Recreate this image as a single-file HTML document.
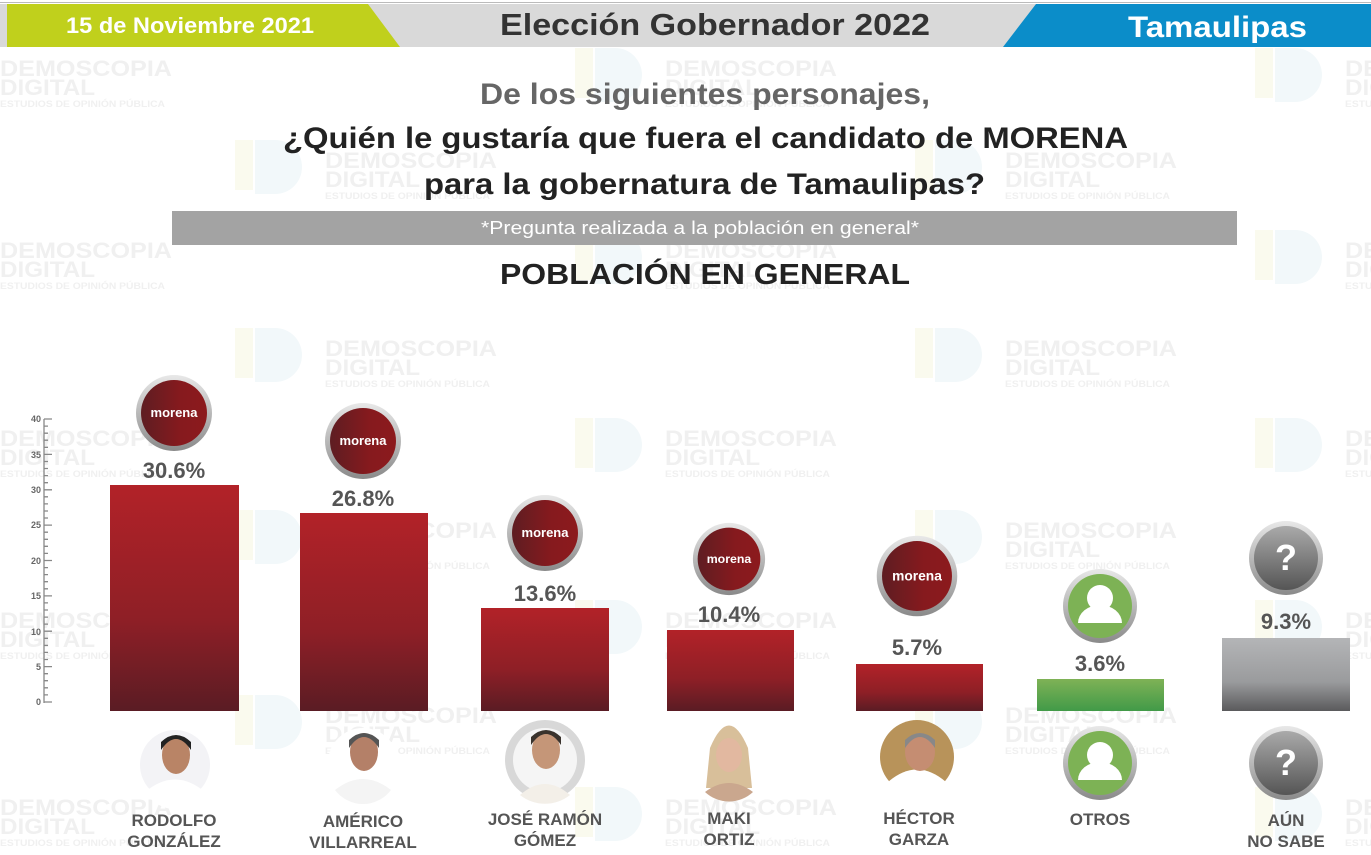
<!DOCTYPE html>
<html><head><meta charset="utf-8"><style>
html,body{margin:0;padding:0;background:#fff;}
svg{display:block;font-family:"Liberation Sans",sans-serif;}
</style></head><body>
<svg width="1371" height="855" viewBox="0 0 1371 855" xmlns="http://www.w3.org/2000/svg">
<defs>
<linearGradient id="rb" x1="0" y1="0" x2="0" y2="1"><stop offset="0" stop-color="#b22228"/><stop offset="0.6" stop-color="#8e1f26"/><stop offset="1" stop-color="#5a1c24"/></linearGradient>
<linearGradient id="gb" x1="0" y1="0" x2="0" y2="1"><stop offset="0" stop-color="#7fb256"/><stop offset="1" stop-color="#419a48"/></linearGradient>
<linearGradient id="sb" x1="0" y1="0" x2="0" y2="1"><stop offset="0" stop-color="#b4b5b7"/><stop offset="0.6" stop-color="#9a9b9d"/><stop offset="1" stop-color="#5a5a5c"/></linearGradient>
<linearGradient id="mc" x1="0" y1="0" x2="1" y2="0"><stop offset="0" stop-color="#5e1d22"/><stop offset="0.6" stop-color="#861a1e"/><stop offset="1" stop-color="#8c1a1d"/></linearGradient>
<linearGradient id="ring" x1="0" y1="0" x2="0" y2="1"><stop offset="0" stop-color="#e8e8e8"/><stop offset="1" stop-color="#8a8a8a"/></linearGradient>
<linearGradient id="qc" x1="0" y1="0" x2="0" y2="1"><stop offset="0" stop-color="#aaa"/><stop offset="1" stop-color="#555"/></linearGradient>
<g id="wm" fill="#f0f0f0" font-weight="bold">
<rect x="-90" y="-10" width="18" height="50" fill="#fafaee"/><path d="M-70 -10 h20 a27 27 0 0 1 0 54 h-20z" fill="#f2f8fa"/>
<text x="0" y="18" font-size="22" textLength="172" lengthAdjust="spacingAndGlyphs">DEMOSCOPIA</text><text x="0" y="37" font-size="22" textLength="95" lengthAdjust="spacingAndGlyphs">DIGITAL</text><text x="0" y="49" font-size="9.5" textLength="165" lengthAdjust="spacingAndGlyphs">ESTUDIOS DE OPINIÓN PÚBLICA</text></g>
<g id="mor"><circle r="38" fill="url(#ring)"/><circle r="33" fill="url(#mc)"/><text y="4" text-anchor="middle" fill="#fff" font-size="13" font-weight="bold">morena</text></g>
<g id="per"><circle r="37" fill="url(#ring)"/><circle r="32" fill="#7db255"/><circle cy="-8" r="13" fill="#fff"/><path d="M-22 17 a22 18 0 0 1 44 0z" fill="#fff"/></g>
<g id="q"><circle r="37" fill="url(#ring)"/><circle r="32" fill="url(#qc)"/><text y="12" text-anchor="middle" fill="#fff" font-size="36" font-weight="bold">?</text></g>
</defs>
<use href="#wm" x="0" y="58"/><use href="#wm" x="665" y="58"/><use href="#wm" x="1345" y="58"/>
<use href="#wm" x="325" y="150"/><use href="#wm" x="1005" y="150"/>
<use href="#wm" x="0" y="240"/><use href="#wm" x="665" y="240"/><use href="#wm" x="1345" y="240"/>
<use href="#wm" x="325" y="338"/><use href="#wm" x="1005" y="338"/>
<use href="#wm" x="0" y="428"/><use href="#wm" x="665" y="428"/><use href="#wm" x="1345" y="428"/>
<use href="#wm" x="325" y="520"/><use href="#wm" x="1005" y="520"/>
<use href="#wm" x="0" y="610"/><use href="#wm" x="665" y="610"/><use href="#wm" x="1345" y="610"/>
<use href="#wm" x="325" y="705"/><use href="#wm" x="1005" y="705"/>
<use href="#wm" x="0" y="797"/><use href="#wm" x="665" y="797"/><use href="#wm" x="1345" y="797"/>
<line x1="0" y1="2.5" x2="1371" y2="2.5" stroke="#bbb" stroke-width="1"/>
<rect x="0" y="4" width="1371" height="43" fill="#d9d9d9"/>
<polygon points="7,4 368,4 400,47 7,47" fill="#c0d01c"/>
<polygon points="1036,4 1371,4 1371,47 1003,47" fill="#0b8dc9"/>
<g font-weight="bold">
<text x="66" y="33" fill="#fff" font-size="22" textLength="248" lengthAdjust="spacingAndGlyphs">15 de Noviembre 2021</text>
<text x="500" y="35" fill="#333" font-size="31" textLength="430" lengthAdjust="spacingAndGlyphs">Elección Gobernador 2022</text>
<text x="1128" y="37" fill="#fff" font-size="30" textLength="179" lengthAdjust="spacingAndGlyphs">Tamaulipas</text>
<text x="480" y="104" fill="#666" font-size="30" textLength="450" lengthAdjust="spacingAndGlyphs">De los siguientes personajes,</text>
<text x="283" y="148" fill="#222" font-size="30" textLength="845" lengthAdjust="spacingAndGlyphs">¿Quién le gustaría que fuera el candidato de MORENA</text>
<text x="424" y="194" fill="#222" font-size="30" textLength="561" lengthAdjust="spacingAndGlyphs">para la gobernatura de Tamaulipas?</text>
</g>
<rect x="172" y="211" width="1065" height="34" fill="#a3a3a3"/>
<text x="481" y="234" fill="#fff" font-size="18" textLength="438" lengthAdjust="spacingAndGlyphs">*Pregunta realizada a la población en general*</text>
<text x="500" y="284" fill="#222" font-size="29" font-weight="bold" textLength="410" lengthAdjust="spacingAndGlyphs">POBLACIÓN EN GENERAL</text>
<g stroke="#888" stroke-width="1.3">
<line x1="44" y1="419" x2="44" y2="703"/>
<path d="M44 419h8M44 426.1h4M44 433.2h4M44 440.2h4M44 447.3h4M44 454.4h8M44 461.5h4M44 468.5h4M44 475.6h4M44 482.7h4M44 489.8h8M44 496.8h4M44 503.9h4M44 511h4M44 518h4M44 525.1h8M44 532.2h4M44 539.3h4M44 546.3h4M44 553.4h4M44 560.5h8M44 567.6h4M44 574.6h4M44 581.7h4M44 588.8h4M44 595.9h8M44 602.9h4M44 610h4M44 617.1h4M44 624.1h4M44 631.2h8M44 638.3h4M44 645.4h4M44 652.4h4M44 659.5h4M44 666.6h8M44 673.7h4M44 680.7h4M44 687.8h4M44 694.9h4M44 702h8" fill="none"/>
</g>
<g fill="#666" font-size="9" font-weight="bold" text-anchor="end">
<text x="41" y="422">40</text><text x="41" y="458">35</text><text x="41" y="493">30</text><text x="41" y="528">25</text><text x="41" y="564">20</text><text x="41" y="599">15</text><text x="41" y="635">10</text><text x="41" y="670">5</text><text x="41" y="705">0</text>
</g>
<rect x="110" y="485" width="129" height="226" fill="url(#rb)"/>
<rect x="300" y="513" width="128" height="198" fill="url(#rb)"/>
<rect x="481" y="608" width="128" height="103" fill="url(#rb)"/>
<rect x="667" y="630" width="127" height="81" fill="url(#rb)"/>
<rect x="856" y="664" width="127" height="47" fill="url(#rb)"/>
<rect x="1037" y="679" width="127" height="32" fill="url(#gb)"/>
<rect x="1222" y="638" width="128" height="73" fill="url(#sb)"/>
<g fill="#555" font-size="22" font-weight="bold" text-anchor="middle">
<text x="174" y="478">30.6%</text><text x="363" y="506">26.8%</text><text x="545" y="601">13.6%</text><text x="729" y="622">10.4%</text><text x="917" y="655">5.7%</text><text x="1100" y="671">3.6%</text><text x="1286" y="629">9.3%</text>
</g>
<use href="#mor" x="174" y="413"/><use href="#mor" x="363" y="441"/><use href="#mor" x="545" y="533"/>
<use href="#mor" x="729" y="559" transform="translate(729 559) scale(0.95) translate(-729 -559)"/>
<use href="#mor" x="917" y="576" transform="translate(917 576) scale(1.06) translate(-917 -576)"/>
<use href="#per" x="1100" y="606"/><use href="#q" x="1286" y="558"/>
<g>
<circle cx="175" cy="765" r="35" fill="#f3f3f6"/><path d="M145 792 q30 -25 60 0 a35 35 0 0 1 -60 0z" fill="#fff"/><ellipse cx="176" cy="755" rx="14" ry="19" fill="#b98466"/><path d="M161 750 q15 -22 30 0 l0 -8 q-15 -14 -30 0z" fill="#222"/>
<circle cx="363" cy="763" r="35" fill="#fff"/><path d="M335 790 q28 -22 56 0 a35 35 0 0 1 -56 0z" fill="#f4f4f4"/><ellipse cx="364" cy="752" rx="14" ry="19" fill="#b48068"/><path d="M349 748 q15 -22 30 0 l0 -8 q-15 -14 -30 0z" fill="#555"/>
<circle cx="545" cy="760" r="40" fill="#d8d8d8"/><circle cx="545" cy="760" r="32" fill="#f5f5f5"/><path d="M520 795 q25 -22 50 0 a40 40 0 0 1 -50 0z" fill="#f3efe8"/><ellipse cx="546" cy="750" rx="14" ry="19" fill="#c59678"/><path d="M531 745 q15 -22 30 0 l0 -8 q-15 -14 -30 0z" fill="#3a332d"/>
<circle cx="729" cy="758" r="35" fill="#fff"/><path d="M710 748 q19 -45 38 0 l4 40 h-46z" fill="#d8bf9a"/><ellipse cx="729" cy="755" rx="13" ry="17" fill="#e2b8a0"/><path d="M705 792 q24 -18 48 0 a35 35 0 0 1 -48 0z" fill="#caa78e"/>
<circle cx="917" cy="757" r="37" fill="#b8935a"/><path d="M888 782 q29 -25 58 0 a37 37 0 0 1 -58 0z" fill="#fff"/><ellipse cx="920" cy="752" rx="15" ry="19" fill="#c58d72"/><path d="M905 748 q15 -22 30 0 l0 -8 q-15 -14 -30 0z" fill="#888"/>
</g>
<use href="#per" x="1100" y="763"/><use href="#q" x="1286" y="763"/>
<g fill="#555" font-size="17" font-weight="bold" text-anchor="middle">
<text x="174" y="826">RODOLFO</text><text x="174" y="847">GONZÁLEZ</text>
<text x="363" y="827">AMÉRICO</text><text x="363" y="848">VILLARREAL</text>
<text x="545" y="825">JOSÉ RAMÓN</text><text x="545" y="846">GÓMEZ</text>
<text x="729" y="824">MAKI</text><text x="729" y="845">ORTIZ</text>
<text x="919" y="824">HÉCTOR</text><text x="919" y="845">GARZA</text>
<text x="1100" y="825">OTROS</text>
<text x="1286" y="826">AÚN</text><text x="1286" y="847">NO SABE</text>
</g>
</svg>
</body></html>
